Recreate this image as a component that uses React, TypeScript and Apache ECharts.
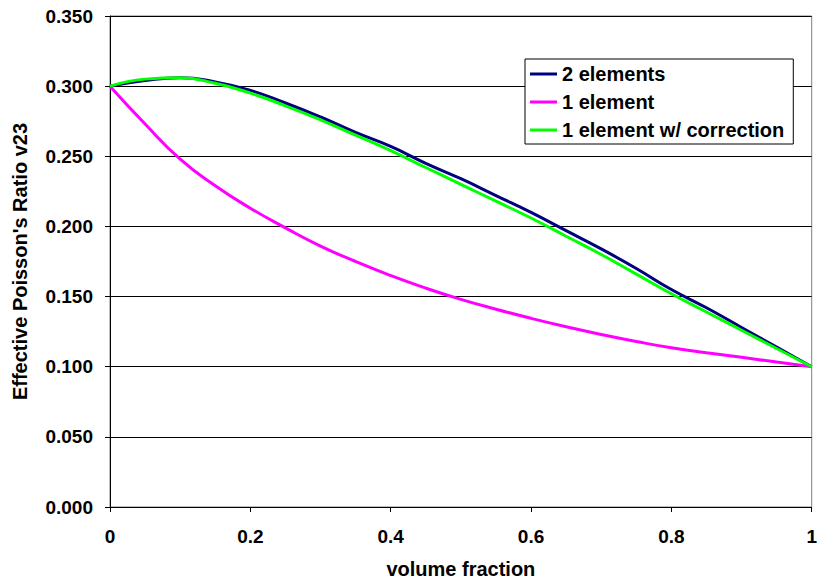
import React, { useEffect, useRef } from "react";
import * as echarts from "echarts";

const xValues = [0, 0.05, 0.1, 0.15, 0.2, 0.25, 0.3, 0.35, 0.4, 0.45, 0.5, 0.55, 0.6, 0.65, 0.7, 0.75, 0.8, 0.85, 0.9, 0.95, 1.0];
const twoElements = [0.300, 0.304, 0.306, 0.303, 0.297, 0.288, 0.278, 0.267, 0.257, 0.245, 0.234, 0.222, 0.210, 0.197, 0.184, 0.170, 0.155, 0.142, 0.128, 0.114, 0.100];
const oneElement = [0.300, 0.273, 0.248, 0.229, 0.213, 0.199, 0.186, 0.175, 0.165, 0.156, 0.148, 0.141, 0.1345, 0.1285, 0.123, 0.118, 0.1135, 0.110, 0.1067, 0.1033, 0.100];
const oneElementCorr = [0.300, 0.305, 0.306, 0.302, 0.295, 0.286, 0.276, 0.265, 0.254, 0.242, 0.230, 0.218, 0.206, 0.193, 0.180, 0.166, 0.152, 0.139, 0.126, 0.113, 0.100];
const seriesNames = ["2 elements", "1 element", "1 element w/ correction"];
const xTitle = "volume fraction";
const yTitle = "Effective Poisson's Ratio v23";

const pairs = (ys: number[]) => xValues.map((x, i) => [x, ys[i]]);

export default function App() {
  const ref = useRef<HTMLDivElement>(null);
  useEffect(() => {
    if (!ref.current) return;
    const chart = echarts.init(ref.current, null, { renderer: "svg" });
    const font = "'Liberation Sans', Arial, sans-serif";
    chart.setOption({
      animation: false,
      backgroundColor: "#ffffff",
      grid: {
        left: 110,
        right: 6,
        top: 16,
        bottom: 79,
        show: true,
        borderColor: "#808080",
        borderWidth: 1,
        backgroundColor: "#ffffff",
      },
      legend: {
        orient: "vertical",
        left: 525,
        top: 59,
        padding: [5, 9, 4, 5],
        itemGap: 8,
        itemWidth: 27,
        itemHeight: 3,
        icon: "rect",
        borderColor: "#000000",
        borderWidth: 1,
        backgroundColor: "#ffffff",
        textStyle: { fontFamily: font, fontWeight: "bold", fontSize: 20, lineHeight: 20, color: "#000" },
        data: seriesNames,
      },
      xAxis: {
        type: "value",
        min: 0,
        max: 1,
        interval: 0.2,
        name: xTitle,
        nameLocation: "middle",
        nameGap: 52,
        nameTextStyle: { fontFamily: font, fontWeight: "bold", fontSize: 20, color: "#000" },
        axisLine: { show: true, lineStyle: { color: "#000", width: 1 } },
        axisTick: { show: true, length: 5, lineStyle: { color: "#000" } },
        axisLabel: { fontFamily: font, fontWeight: "bold", fontSize: 19, color: "#000", margin: 20 },
        splitLine: { show: false },
      },
      yAxis: {
        type: "value",
        min: 0,
        max: 0.35,
        interval: 0.05,
        name: yTitle,
        nameLocation: "middle",
        nameRotate: 90,
        nameGap: 80,
        nameTextStyle: { fontFamily: font, fontWeight: "bold", fontSize: 20, color: "#000" },
        axisLine: { show: true, lineStyle: { color: "#000", width: 1 } },
        axisTick: { show: true, length: 5, lineStyle: { color: "#000" } },
        axisLabel: {
          fontFamily: font,
          fontWeight: "bold",
          fontSize: 19,
          color: "#000",
          margin: 17,
          formatter: (v: number) => v.toFixed(3),
        },
        splitLine: { show: true, lineStyle: { color: "#000", width: 1 } },
      },
      series: [
        {
          name: seriesNames[0],
          type: "line",
          data: pairs(twoElements),
          smooth: true,
          showSymbol: false,
          lineStyle: { color: "#000080", width: 3 },
          itemStyle: { color: "#000080" },
        },
        {
          name: seriesNames[1],
          type: "line",
          data: pairs(oneElement),
          smooth: true,
          showSymbol: false,
          lineStyle: { color: "#FF00FF", width: 3 },
          itemStyle: { color: "#FF00FF" },
        },
        {
          name: seriesNames[2],
          type: "line",
          data: pairs(oneElementCorr),
          smooth: true,
          showSymbol: false,
          lineStyle: { color: "#00FF00", width: 3 },
          itemStyle: { color: "#00FF00" },
        },
      ],
    });
    return () => chart.dispose();
  }, []);
  return <div ref={ref} style={{ width: 820, height: 586, position: "absolute", left: 0, top: 0 }} />;
}
